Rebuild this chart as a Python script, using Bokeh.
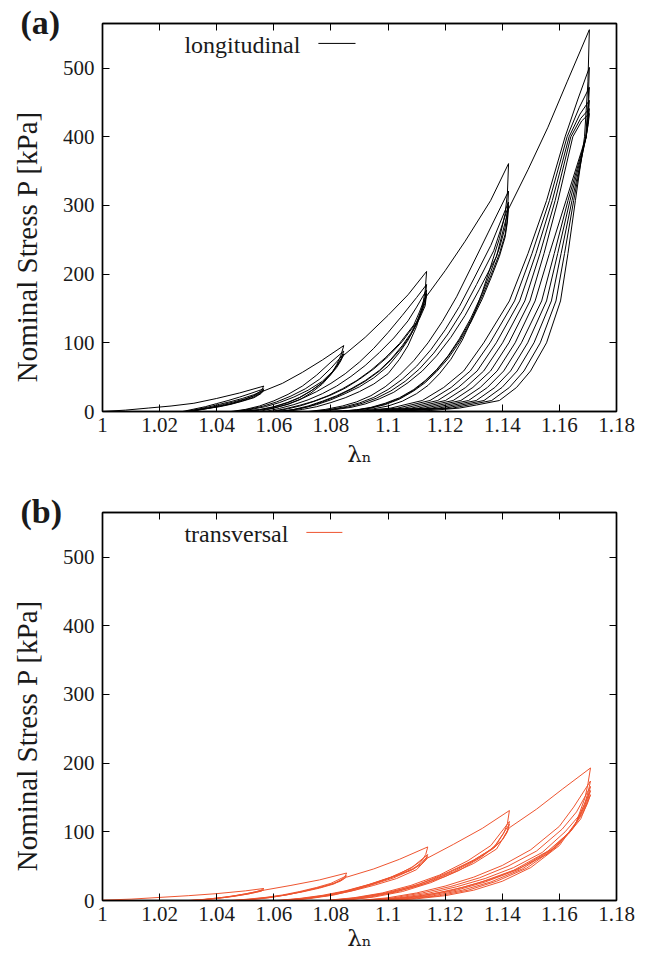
import math
from bokeh.plotting import figure
from bokeh.models import Range1d, LinearAxis, FixedTicker, Label, Arrow, CustomJSTickFormatter, Title
from bokeh.layouts import column
from bokeh.embed import file_html
from bokeh.resources import INLINE

FONT = "Liberation Serif"

x_ticks = [1.0, 1.02, 1.04, 1.06, 1.08, 1.1, 1.12, 1.14, 1.16, 1.18]
x_tick_labels = ["1", "1.02", "1.04", "1.06", "1.08", "1.1", "1.12", "1.14", "1.16", "1.18"]
y_ticks = [0, 100, 200, 300, 400, 500]
series_names = ["longitudinal", "transversal"]
series_colors = ["#000000", "#ee5530"]
panel_tags = ["(a)", "(b)"]
x_title = "λₙ"
y_title = "Nominal Stress P [kPa]"

# ---------------- panel (a): longitudinal ----------------
a_env_lam = [
    [1.000, 1.008, 1.016, 1.024, 1.032, 1.040, 1.048, 1.0565],
    [1.0565, 1.063, 1.070, 1.077, 1.0845],
    [1.0845, 1.092, 1.100, 1.107, 1.1135],
    [1.1135, 1.120, 1.127, 1.1359, 1.1422],
    [1.1422, 1.149, 1.156, 1.1627, 1.1705],
]
a_env_P = [
    [0, 2, 5, 8, 12, 19, 27, 37],
    [30, 41, 57, 75, 96],
    [82, 108, 140, 170, 204],
    [168, 205, 248, 307, 361],
    [295, 352, 414, 480, 556],
]

a_l1_lam = [
    [1.0565, 1.0555, 1.053, 1.049, 1.045, 1.041, 1.037, 1.033, 1.029],
    [1.028, 1.032, 1.036, 1.040, 1.044, 1.048, 1.052, 1.0565],
    [1.0565, 1.0555, 1.053, 1.049, 1.045, 1.041, 1.037, 1.033, 1.030],
    [1.029, 1.033, 1.037, 1.041, 1.045, 1.049, 1.053, 1.0565],
    [1.0565, 1.0555, 1.053, 1.049, 1.045, 1.041, 1.037, 1.034, 1.031],
    [1.030, 1.034, 1.038, 1.042, 1.046, 1.050, 1.0535, 1.0565],
]
a_l1_P = [
    [37, 30, 23, 16.5, 11.5, 8, 5, 2.5, 0],
    [0, 3.5, 7, 11.5, 16, 21, 26.5, 33],
    [33, 27, 21, 15.5, 11, 7.5, 4.5, 2, 0],
    [0, 3, 6.5, 10.5, 14.5, 19, 24.5, 31],
    [31, 26, 20, 15, 10.5, 7, 4.5, 2.2, 0],
    [0, 3, 6, 10, 14, 18.5, 23.5, 30],
]

a_l2_lam = [
    [1.0845, 1.0835, 1.082, 1.080, 1.077, 1.073, 1.069, 1.065, 1.060, 1.055, 1.049],
    [1.045, 1.050, 1.055, 1.060, 1.065, 1.070, 1.075, 1.080, 1.0845],
    [1.0845, 1.0835, 1.082, 1.080, 1.077, 1.073, 1.069, 1.065, 1.060, 1.055, 1.048],
    [1.046, 1.051, 1.056, 1.061, 1.066, 1.071, 1.076, 1.080, 1.0845],
    [1.0845, 1.0835, 1.082, 1.080, 1.077, 1.073, 1.069, 1.065, 1.060, 1.055, 1.0475],
    [1.047, 1.052, 1.057, 1.062, 1.067, 1.072, 1.077, 1.081, 1.0845],
]
a_l2_P = [
    [96, 82, 68, 54, 40, 27, 17, 10.5, 5, 1.8, 0],
    [0, 3, 8, 15.5, 25, 37, 53, 72, 88],
    [88, 77, 66, 55, 42, 30, 20, 13, 6.5, 2.5, 0],
    [0, 3, 7.5, 14, 22.5, 33, 47, 63, 84],
    [84, 74, 64, 54, 42, 30, 20.5, 13.5, 7, 2.8, 0],
    [0, 3, 7, 13, 21, 31, 44, 60, 82],
]

a_l3_lam = [
    [1.1135, 1.113, 1.112, 1.110, 1.107, 1.104, 1.100, 1.095, 1.090, 1.085, 1.080, 1.075, 1.070, 1.064],
    [1.055, 1.060, 1.065, 1.070, 1.075, 1.080, 1.085, 1.090, 1.095, 1.100, 1.105, 1.110, 1.1135],
    [1.1135, 1.113, 1.112, 1.110, 1.107, 1.104, 1.100, 1.095, 1.090, 1.085, 1.080, 1.075, 1.070, 1.065, 1.061],
    [1.057, 1.062, 1.067, 1.072, 1.077, 1.082, 1.087, 1.092, 1.097, 1.102, 1.107, 1.110, 1.1135],
    [1.1135, 1.113, 1.111, 1.108, 1.105, 1.101, 1.097, 1.092, 1.087, 1.082, 1.077, 1.072, 1.067, 1.062],
    [1.059, 1.064, 1.069, 1.074, 1.079, 1.084, 1.089, 1.094, 1.099, 1.104, 1.109, 1.111, 1.1135],
    [1.1135, 1.113, 1.111, 1.108, 1.105, 1.101, 1.097, 1.092, 1.087, 1.082, 1.077, 1.072, 1.067, 1.062],
    [1.060, 1.065, 1.070, 1.075, 1.080, 1.085, 1.090, 1.095, 1.100, 1.105, 1.110, 1.1135],
]
a_l3_P = [
    [204, 176, 152, 124, 96, 76, 55, 40, 29, 20, 13, 7, 3, 0],
    [0, 5, 11, 19, 29, 41, 55, 72, 92, 115, 140, 166, 185],
    [185, 165, 148, 128, 104, 86, 66, 49, 36, 26, 17, 10, 5, 1.5, 0],
    [0, 4.5, 10, 17, 26, 37, 51, 67, 86, 107, 132, 152, 177],
    [177, 158, 138, 114, 96, 76, 60, 45, 33, 23, 15, 8, 3, 0],
    [0, 4, 9, 15, 23, 33, 45, 60, 78, 99, 126, 145, 172],
    [172, 154, 135, 112, 94, 75, 59, 44, 32, 22, 14, 7, 2.5, 0],
    [0, 4, 9, 16, 24, 34, 47, 62, 80, 102, 130, 168],
]

a_l4_lam = [
    [1.1422, 1.1418, 1.141, 1.139, 1.136, 1.133, 1.130, 1.126, 1.122, 1.118, 1.114, 1.110, 1.105, 1.100, 1.095, 1.090, 1.085, 1.080],
    [1.072, 1.078, 1.084, 1.089, 1.094, 1.099, 1.104, 1.109, 1.114, 1.119, 1.124, 1.129, 1.135, 1.1422],
    [1.1422, 1.1418, 1.141, 1.139, 1.136, 1.133, 1.129, 1.125, 1.121, 1.117, 1.113, 1.109, 1.104, 1.099, 1.094, 1.089, 1.084, 1.078],
    [1.073, 1.079, 1.085, 1.090, 1.095, 1.100, 1.105, 1.110, 1.115, 1.120, 1.125, 1.130, 1.136, 1.1422],
    [1.1422, 1.1418, 1.141, 1.139, 1.136, 1.133, 1.129, 1.125, 1.121, 1.117, 1.113, 1.109, 1.104, 1.099, 1.094, 1.089, 1.084, 1.077],
    [1.074, 1.080, 1.086, 1.091, 1.096, 1.101, 1.106, 1.111, 1.116, 1.121, 1.126, 1.131, 1.137, 1.1422],
    [1.1422, 1.1418, 1.141, 1.139, 1.136, 1.133, 1.129, 1.125, 1.121, 1.117, 1.113, 1.109, 1.104, 1.099, 1.094, 1.089, 1.084, 1.076],
    [1.075, 1.081, 1.087, 1.092, 1.097, 1.102, 1.107, 1.112, 1.117, 1.122, 1.127, 1.132, 1.138, 1.1422],
]
a_l4_P = [
    [361, 318, 288, 252, 212, 174, 140, 104, 76, 55, 38, 26, 15, 8, 4, 1.5, 0.5, 0],
    [0, 3, 8, 14, 23, 36, 53, 74, 100, 131, 167, 209, 260, 321],
    [321, 292, 268, 238, 204, 172, 136, 106, 81, 61, 45, 32, 20, 12, 6, 2.5, 0.8, 0],
    [0, 2.5, 7, 12.5, 20.5, 32, 47, 66, 90, 119, 153, 193, 242, 305],
    [305, 280, 258, 230, 198, 168, 133, 104, 80, 60, 44, 31, 19, 11, 5.5, 2.2, 0.6, 0],
    [0, 2.5, 6.5, 12, 19.5, 30, 44, 62, 85, 113, 146, 185, 234, 300],
    [300, 276, 254, 226, 194, 164, 130, 101, 77, 58, 42, 30, 18, 10, 5, 2, 0.5, 0],
    [0, 2.5, 6, 11, 18.5, 28, 42, 59, 81, 108, 140, 178, 226, 295],
]

a_l5_lam = [
    [1.1705, 1.1700, 1.1688, 1.1656, 1.1630, 1.1604, 1.1555, 1.1499, 1.1450, 1.1390, 1.1310, 1.1250, 1.1150, 1.1050],
    [1.0880, 1.1010, 1.1120, 1.1195, 1.1265, 1.1335, 1.1425, 1.1490, 1.1555, 1.1620, 1.1665, 1.1705],
    [1.1705, 1.1701, 1.1692, 1.1650, 1.1618, 1.1588, 1.1533, 1.1476, 1.1425, 1.1363, 1.1226, 1.1033],
    [1.0897, 1.1034, 1.1147, 1.1221, 1.1288, 1.1357, 1.1443, 1.1504, 1.1565, 1.1627, 1.1670, 1.1705],
    [1.1705, 1.1701, 1.1694, 1.1644, 1.1606, 1.1572, 1.1511, 1.1452, 1.1399, 1.1336, 1.1202, 1.1016],
    [1.0914, 1.1058, 1.1174, 1.1246, 1.1312, 1.1379, 1.1461, 1.1518, 1.1575, 1.1634, 1.1672, 1.1705],
    [1.1705, 1.1701, 1.1694, 1.1637, 1.1594, 1.1555, 1.1489, 1.1429, 1.1374, 1.1309, 1.1178, 1.0999],
    [1.0931, 1.1082, 1.1201, 1.1272, 1.1335, 1.1401, 1.1479, 1.1532, 1.1585, 1.1640, 1.1675, 1.1705],
    [1.1705, 1.1701, 1.1694, 1.1630, 1.1582, 1.1538, 1.1467, 1.1405, 1.1348, 1.1282, 1.1154, 1.0982],
    [1.0948, 1.1106, 1.1228, 1.1297, 1.1359, 1.1423, 1.1497, 1.1546, 1.1595, 1.1647, 1.1678, 1.1705],
    [1.1705, 1.1701, 1.1693, 1.1623, 1.1565, 1.1515, 1.1445, 1.1382, 1.1323, 1.1255, 1.1130, 1.0965],
]
a_l5_P = [
    [556, 480, 400, 307, 230, 161, 100, 59, 35, 16, 9.5, 5, 1.5, 0],
    [0, 5, 16, 35, 59, 100, 161, 230, 307, 400, 455, 501],
    [501, 452, 400, 307, 230, 161, 100, 59, 35, 16, 5, 0],
    [0, 5, 16, 35, 59, 100, 161, 230, 307, 400, 443, 472],
    [472, 438, 400, 307, 230, 161, 100, 59, 35, 16, 5, 0],
    [0, 5, 16, 35, 59, 100, 161, 230, 307, 400, 433, 453],
    [453, 428, 400, 307, 230, 161, 100, 59, 35, 16, 5, 0],
    [0, 5, 16, 35, 59, 100, 161, 230, 307, 400, 427, 441],
    [441, 422, 400, 307, 230, 161, 100, 59, 35, 16, 5, 0],
    [0, 5, 16, 35, 59, 100, 161, 230, 307, 400, 423, 434],
    [434, 418, 400, 307, 230, 161, 100, 59, 35, 16, 5, 0],
]

# ---------------- panel (b): transversal ----------------
b_env_lam = [
    [1.000, 1.010, 1.020, 1.030, 1.040, 1.050, 1.0565],
    [1.0565, 1.066, 1.076, 1.0855],
    [1.0855, 1.095, 1.104, 1.1139],
    [1.1139, 1.123, 1.133, 1.1425],
    [1.1425, 1.152, 1.161, 1.1709],
]
b_env_P = [
    [0.5, 2, 4.5, 7, 10, 14, 17.5],
    [15, 22, 30, 40],
    [34, 46, 60, 78],
    [62, 82, 105, 131],
    [106, 133, 162, 193],
]

b_l1_lam = [
    [1.0565, 1.0555, 1.054, 1.051, 1.047, 1.043, 1.039, 1.035, 1.031],
    [1.030, 1.035, 1.040, 1.045, 1.050, 1.0535, 1.0565],
    [1.0565, 1.0555, 1.054, 1.051, 1.047, 1.043, 1.039, 1.035, 1.032],
    [1.031, 1.036, 1.041, 1.046, 1.051, 1.054, 1.0565],
]
b_l1_P = [
    [17.5, 15, 13, 10.5, 7.5, 5, 3, 1.2, 0],
    [0, 1.5, 3.5, 6, 9.5, 12.5, 15.5],
    [15.5, 13.5, 12, 9.5, 7, 4.5, 2.5, 1, 0],
    [0, 1.5, 3.5, 6, 9.5, 12.5, 15],
]

b_l2_lam = [
    [1.0855, 1.0848, 1.0835, 1.081, 1.077, 1.071, 1.065, 1.059, 1.053, 1.048],
    [1.045, 1.051, 1.057, 1.063, 1.069, 1.075, 1.080, 1.0855],
    [1.0855, 1.0847, 1.0833, 1.0805, 1.076, 1.070, 1.064, 1.058, 1.052, 1.047],
    [1.046, 1.052, 1.058, 1.064, 1.070, 1.076, 1.081, 1.0855],
]
b_l2_P = [
    [40, 34, 30, 25, 20, 14, 8.5, 4.5, 1.5, 0],
    [0, 2, 4.5, 8, 13, 19, 25, 36],
    [36, 32, 28, 24, 19, 13, 8, 4, 1.5, 0],
    [0, 2, 4.5, 8, 12.5, 18, 24, 34],
]

b_l3_lam = [
    [1.1139, 1.1132, 1.112, 1.109, 1.104, 1.097, 1.089, 1.081, 1.073, 1.065],
    [1.061, 1.069, 1.077, 1.085, 1.093, 1.101, 1.108, 1.1139],
    [1.1139, 1.1131, 1.1117, 1.1085, 1.103, 1.095, 1.087, 1.079, 1.071, 1.064],
    [1.062, 1.070, 1.078, 1.086, 1.094, 1.102, 1.109, 1.1139],
    [1.1139, 1.113, 1.1115, 1.108, 1.102, 1.094, 1.086, 1.078, 1.070, 1.063],
    [1.063, 1.071, 1.079, 1.087, 1.095, 1.103, 1.110, 1.1139],
]
b_l3_P = [
    [78, 67, 59, 50, 39, 27, 16, 8, 3, 0],
    [0, 3, 7.5, 14, 23, 34, 47, 67],
    [67, 60, 54, 46, 36, 25, 15, 7.5, 2.5, 0],
    [0, 3, 7.5, 14, 22.5, 33, 46, 64],
    [64, 58, 52, 44, 35, 24, 14.5, 7, 2.5, 0],
    [0, 3, 7, 13.5, 22, 32, 45, 62],
]

b_l4_lam = [
    [1.1425, 1.1418, 1.1405, 1.138, 1.133, 1.125, 1.115, 1.105, 1.095, 1.085],
    [1.078, 1.088, 1.098, 1.108, 1.118, 1.128, 1.136, 1.1425],
    [1.1425, 1.1418, 1.1403, 1.137, 1.131, 1.123, 1.113, 1.103, 1.093, 1.083],
    [1.079, 1.089, 1.099, 1.109, 1.119, 1.129, 1.137, 1.1425],
    [1.1425, 1.1417, 1.1400, 1.136, 1.130, 1.121, 1.111, 1.101, 1.091, 1.081],
    [1.080, 1.090, 1.100, 1.110, 1.120, 1.130, 1.138, 1.1425],
]
b_l4_P = [
    [131, 112, 98, 82, 64, 44, 26, 13, 5, 0],
    [0, 4, 11, 22, 37, 58, 80, 115],
    [115, 102, 90, 76, 60, 42, 25, 12.5, 4.5, 0],
    [0, 4, 11, 21, 36, 56, 77, 111],
    [111, 99, 88, 74, 59, 41, 24, 12, 4.5, 0],
    [0, 4, 10.5, 20.5, 35, 54, 75, 106],
]

b_l5_lam = [
    [1.1709, 1.1700, 1.1690, 1.1660, 1.1600, 1.1500, 1.1400, 1.1300, 1.1200, 1.1100, 1.1000],
    [1.090, 1.100, 1.110, 1.120, 1.130, 1.140, 1.150, 1.160, 1.165, 1.1709],
    [1.1709, 1.1700, 1.1688, 1.1655, 1.1590, 1.1485, 1.1380, 1.1280, 1.1180, 1.1080, 1.0990],
    [1.091, 1.102, 1.112, 1.122, 1.132, 1.142, 1.152, 1.161, 1.166, 1.1709],
    [1.1709, 1.1699, 1.1686, 1.1650, 1.1580, 1.1470, 1.1360, 1.1260, 1.1160, 1.1060, 1.0980],
    [1.092, 1.104, 1.114, 1.124, 1.134, 1.144, 1.154, 1.162, 1.167, 1.1709],
    [1.1709, 1.1698, 1.1684, 1.1645, 1.1570, 1.1455, 1.1340, 1.1240, 1.1140, 1.1040, 1.0970],
    [1.093, 1.106, 1.116, 1.126, 1.136, 1.146, 1.156, 1.163, 1.1675, 1.1709],
    [1.1709, 1.1697, 1.1682, 1.1640, 1.1560, 1.1440, 1.1320, 1.1220, 1.1120, 1.1020, 1.0960],
]
b_l5_P = [
    [193, 170, 150, 115, 80, 48, 28, 15, 7, 2.5, 0],
    [0, 4, 11, 21, 34, 51, 74, 108, 136, 174],
    [174, 157, 140, 110, 78, 47, 28, 15, 7, 2.5, 0],
    [0, 4, 11, 20.5, 33, 50, 72, 104, 129, 166],
    [166, 150, 135, 107, 76, 46, 27, 15, 7, 2.5, 0],
    [0, 4, 10.5, 20, 32, 48, 70, 100, 124, 160],
    [160, 145, 131, 104, 74, 45, 27, 15, 7, 2.5, 0],
    [0, 4, 10, 19, 31, 47, 68, 96, 119, 154],
    [154, 140, 127, 101, 72, 44, 26, 14.5, 7, 2.5, 0],
]

a_lam = a_env_lam + a_l1_lam + a_l2_lam + a_l3_lam + a_l4_lam + a_l5_lam
a_P = a_env_P + a_l1_P + a_l2_P + a_l3_P + a_l4_P + a_l5_P
b_lam = b_env_lam + b_l1_lam + b_l2_lam + b_l3_lam + b_l4_lam + b_l5_lam
b_P = b_env_P + b_l1_P + b_l2_P + b_l3_P + b_l4_P + b_l5_P

# legend anchors (data units)
legend_text_x = [1.0693, 1.0651]
legend_line_x0 = [1.0756, 1.0714]
legend_line_x1 = [1.0886, 1.0840]
legend_y = 534


def make_panel(xs, ys, color, name, tag, height, bottom, xlab_standoff):
    p = figure(width=646, height=height,
               x_range=Range1d(1.0, 1.18), y_range=Range1d(0, 565),
               x_axis_type=None, y_axis_type=None,
               output_backend="svg", toolbar_location=None,
               min_border_left=102, min_border_right=30,
               min_border_top=23, min_border_bottom=bottom)
    p.outline_line_color = "black"
    p.outline_line_width = 1.4
    p.background_fill_color = "white"
    p.border_fill_color = "white"

    fmt = CustomJSTickFormatter(args=dict(xt=x_ticks, xl=x_tick_labels), code="""
        let best = 0; let d = 1e9;
        for (let i = 0; i < xt.length; i++) {
            const e = Math.abs(xt[i] - tick);
            if (e < d) { d = e; best = i; }
        }
        return xl[best];
    """)
    blank = CustomJSTickFormatter(code="return '';")
    for loc in ["below", "above", "left", "right"]:
        horiz = loc in ("below", "above")
        ax = LinearAxis(ticker=FixedTicker(ticks=x_ticks if horiz else y_ticks))
        ax.major_tick_in = 7
        ax.major_tick_out = 0
        ax.minor_tick_line_color = None
        ax.axis_line_color = "black"
        ax.axis_line_width = 1.4
        ax.major_tick_line_color = "black"
        ax.major_tick_line_width = 1
        ax.major_label_text_font = FONT
        if loc in ("below", "left"):
            if horiz:
                ax.formatter = fmt
            ax.major_label_text_color = "#1a1a1a"
            ax.major_label_text_font_size = "21px"
            ax.major_label_standoff = 6 if loc == "below" else 8
            ax.axis_label_text_font_style = "normal"
            ax.axis_label_text_color = "#1a1a1a"
            if horiz:
                ax.axis_label = x_title
                ax.axis_label_text_font = "DejaVu Serif"
                ax.axis_label_text_font_size = "23px"
                ax.axis_label_standoff = xlab_standoff
            else:
                # trailing no-break spaces shift the centred title down to where the reference has it
                ax.axis_label = y_title + "\u00a0" * 8
                ax.axis_label_text_font = FONT
                ax.axis_label_text_font_size = "29px"
                ax.axis_label_standoff = 17
        else:
            ax.formatter = blank
            ax.major_label_text_color = None
            ax.major_label_text_font_size = "1px"
            ax.major_label_standoff = 0
        p.add_layout(ax, loc)

    # panel tag: a title pulled down beside the frame's top-left corner
    p.add_layout(Title(text=tag, align="left", offset=-82, standoff=-34,
                       vertical_align="bottom", text_font=FONT, text_font_style="bold",
                       text_font_size="34px", text_color="#1a1a1a"), "above")

    p.multi_line(xs=xs, ys=ys, line_color=color, line_width=1)

    # legend: text then sample line
    i = series_names.index(name)
    p.add_layout(Label(x=legend_text_x[i], y=legend_y, text=name, text_font=FONT,
                       text_font_size="24px", text_align="right", text_baseline="middle",
                       text_color="#1a1a1a"))
    p.add_layout(Arrow(x_start=legend_line_x0[i], y_start=legend_y + 2,
                       x_end=legend_line_x1[i], y_end=legend_y + 2,
                       end=None, line_color=color, line_width=1))
    return p


pa = make_panel(a_lam, a_P, series_colors[0], series_names[0], panel_tags[0], 489, 78, 6)
pb = make_panel(b_lam, b_P, series_colors[1], series_names[1], panel_tags[1], 474, 63, 1)

layout = column(pa, pb, spacing=0)
open("out.html", "w").write(file_html(layout, INLINE))
